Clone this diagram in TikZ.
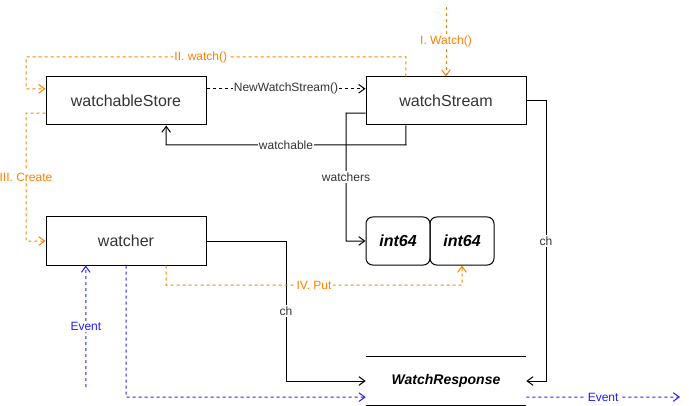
\documentclass[tikz,border=0pt]{standalone}
\usepackage{fontspec}
\setmainfont{Liberation Sans}
\usepackage{tikz}
\usetikzlibrary{arrows.meta,calc}
\definecolor{orng}{RGB}{255,128,0}
\definecolor{blu}{RGB}{30,30,255}
\definecolor{txt}{RGB}{51,51,51}
\tikzset{
	objnode/.style = {rectangle, draw=black, line width=0.75pt, inner sep=0pt,
		minimum width=120pt, minimum height=36pt, text=txt,
		font=\fontsize{12}{14}\selectfont},
	cell/.style = {objnode, rounded corners=5pt, minimum width=48pt, text=black,
		font=\fontsize{12}{14}\selectfont\bfseries\itshape},
	resp/.style = {rectangle, inner sep=0pt, minimum width=120pt, minimum height=36pt,
		font=\fontsize{10.5}{12}\selectfont\bfseries\itshape},
	lbl/.style = {fill=white, inner sep=1pt, text=txt, font=\fontsize{9}{10}\selectfont},
	lbl_o/.style = {lbl, text=orng},
	lbl_b/.style = {lbl, text=blu},
	ln_k/.style = {->, black, line width=0.75pt},
	ln_kd/.style = {ln_k, dash pattern=on 2.25pt off 2.25pt},
	ln_o/.style = {ln_kd, orng},
	ln_b/.style = {ln_kd, blu}
}
\begin{document}
\begin{tikzpicture}[x=0.75pt, y=-0.75pt, >={Straight Barb[length=4.5pt,width=6.5pt]}]
\useasboundingbox (0,0) rectangle (689,406);
\node [objnode] (wst) at (126,101) {watchableStore};
\node [objnode] (ws) at (446,101) {watchStream};
\node [objnode] (wa) at (126,241) {watcher};
\node [cell] (c1) at (398,241) {int64};
\node [cell] (c2) at (462,241) {int64};
\node [resp] (wr) at (446,381) {WatchResponse};
\draw [line width=0.75pt] (wr.north west) -- (wr.north east);
\draw [line width=0.75pt] (wr.south west) -- (wr.south east);

\coordinate (wst_l1) at ($(wst.north west)!0.25!(wst.south west)$);
\coordinate (wst_l3) at ($(wst.north west)!0.75!(wst.south west)$);
\coordinate (wst_r1) at ($(wst.north east)!0.25!(wst.south east)$);
\coordinate (wst_b3) at ($(wst.south west)!0.75!(wst.south east)$);
\coordinate (ws_t1) at ($(ws.north west)!0.25!(ws.north east)$);
\coordinate (ws_l1) at ($(ws.north west)!0.25!(ws.south west)$);
\coordinate (ws_l3) at ($(ws.north west)!0.75!(ws.south west)$);
\coordinate (ws_b1) at ($(ws.south west)!0.25!(ws.south east)$);
\coordinate (wa_b1) at ($(wa.south west)!0.25!(wa.south east)$);
\coordinate (wa_b3) at ($(wa.south west)!0.75!(wa.south east)$);
\coordinate (wr_l) at ($(wr.south west)!0.1667!(wr.north west)$);
\coordinate (wr_r) at ($(wr.south east)!0.1667!(wr.north east)$);
\coordinate (w_in) at (446,7);
\coordinate (ev_in) at (86,387);
\coordinate (ev_out) at (680,397);

\draw [ln_o] (w_in) -- node[lbl_o] {I. Watch()} (ws.north);
\draw [ln_o] (ws_t1) -- (406,57) -- node[lbl_o, pos=0.54] {II. watch()} (26,57) -- (26,89) -- (wst_l1);
\draw [ln_kd] (wst_r1) -- node[lbl] {NewWatchStream()} (ws_l1);
\draw [ln_k] (ws_b1) -- (406,145) -- node[lbl] {watchable} (166,145) -- (wst_b3);
\draw [ln_k] (ws_l3) -- (346,113) -- node[lbl] {watchers} (346,241) -- (c1.west);
\draw [ln_k] (ws.east) -- (546,101) -- node[lbl] {ch} (546,381) -- (wr.east);
\draw [ln_o] (wst_l3) -- (26,113) -- node[lbl_o] {III. Create} (26,241) -- (wa.west);
\draw [ln_k] (wa.east) -- (286,241) -- node[lbl] {ch} (286,381) -- (wr.west);
\draw [ln_o] (wa_b3) -- (166,285) -- node[lbl_o] {IV. Put} (462,285) -- (c2.south);
\draw [ln_b] (ev_in) -- node[lbl_b] {Event} (wa_b1);
\draw [ln_b] (wa.south) -- (126,397) -- (wr_l);
\draw [ln_b] (wr_r) -- node[lbl_b] {Event} (ev_out);
\end{tikzpicture}
\end{document}
